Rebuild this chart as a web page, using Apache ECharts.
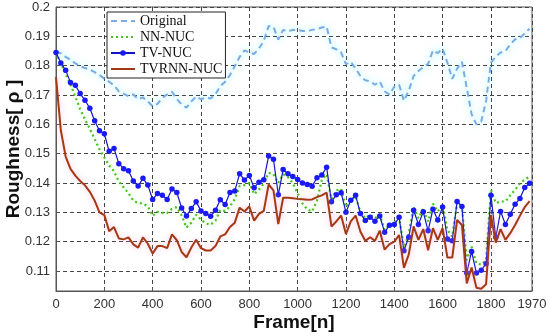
<!DOCTYPE html>
<html>
<head>
<meta charset="utf-8">
<script src="https://cdn.jsdelivr.net/npm/echarts@6/dist/echarts.min.js"></script>
<style>html,body{margin:0;padding:0;background:#fff;}#c{width:550px;height:336px;}</style>
</head>
<body>
<div id="c"></div>
<script>
const frames = [0,20,40,60,80,100,120,140,160,180,200,220,240,260,280,300,320,340,360,380,400,420,440,460,480,500,520,540,560,580,600,620,640,660,680,700,720,740,760,780,800,820,840,860,880,900,920,940,960,980,1000,1020,1040,1060,1080,1100,1120,1140,1160,1180,1200,1220,1240,1260,1280,1300,1320,1340,1360,1380,1400,1420,1440,1460,1480,1500,1520,1540,1560,1580,1600,1620,1640,1660,1680,1700,1720,1740,1760,1780,1800,1820,1840,1860,1880,1900,1920,1940,1960];

const original = [0.1849,0.1842,0.1830,0.1820,0.1808,0.1798,0.1792,0.1787,0.1778,0.1768,0.1756,0.1745,0.1733,0.1712,0.1704,0.1696,0.1702,0.1686,0.1692,0.1678,0.1662,0.1670,0.1690,0.1702,0.1711,0.1686,0.1668,0.1657,0.1678,0.1695,0.1686,0.1691,0.1688,0.1703,0.1730,0.1745,0.1768,0.1798,0.1830,0.1852,0.1845,0.1840,0.1858,0.1885,0.1935,0.1932,0.1889,0.1922,0.1917,0.1922,0.1922,0.1918,0.1918,0.1922,0.1925,0.1930,0.1934,0.1862,0.1856,0.1845,0.1805,0.1813,0.1790,0.1765,0.1750,0.1747,0.1735,0.1746,0.1712,0.1702,0.1728,0.1735,0.1680,0.1715,0.1765,0.1782,0.1795,0.1806,0.1852,0.1843,0.1858,0.1810,0.1755,0.1790,0.1813,0.1724,0.1635,0.1600,0.1610,0.1680,0.1810,0.1830,0.1845,0.1850,0.1872,0.1890,0.1894,0.1910,0.1926];

const nnNuc = [0.1845,0.1808,0.1772,0.1735,0.1695,0.1652,0.1617,0.1585,0.1550,0.1515,0.1487,0.1460,0.1440,0.1405,0.1385,0.1365,0.1340,0.1332,0.1330,0.1320,0.1288,0.1302,0.1298,0.1298,0.1312,0.1318,0.1290,0.1248,0.1265,0.1292,0.1275,0.1262,0.1258,0.1272,0.1308,0.1305,0.1320,0.1345,0.1390,0.1393,0.1400,0.1362,0.1378,0.1398,0.1435,0.1430,0.1400,0.1430,0.1420,0.1400,0.1365,0.1330,0.1310,0.1303,0.1340,0.1410,0.1430,0.1345,0.1375,0.1380,0.1318,0.1343,0.1355,0.1300,0.1280,0.1292,0.1280,0.1292,0.1240,0.1257,0.1263,0.1282,0.1178,0.1228,0.1318,0.1280,0.1314,0.1269,0.1330,0.1303,0.1326,0.1240,0.1217,0.1332,0.1320,0.1137,0.1183,0.1126,0.1122,0.1137,0.1377,0.1332,0.1337,0.1337,0.1358,0.1377,0.1398,0.1412,0.1422];

const tvNuc = [0.1845,0.1809,0.1784,0.1743,0.1733,0.1705,0.1682,0.1655,0.1612,0.1578,0.1568,0.1508,0.1518,0.1466,0.1449,0.1442,0.1407,0.1390,0.1416,0.1393,0.1344,0.1364,0.1358,0.1344,0.1380,0.1368,0.1315,0.1288,0.1313,0.1336,0.1305,0.1296,0.1287,0.1307,0.1343,0.1327,0.1368,0.1373,0.1432,0.1410,0.1426,0.1384,0.1403,0.1411,0.1492,0.1481,0.1360,0.1446,0.1432,0.1422,0.1412,0.1400,0.1395,0.1389,0.1418,0.1427,0.1454,0.1336,0.1360,0.1367,0.1300,0.1341,0.1358,0.1296,0.1272,0.1283,0.1270,0.1288,0.1232,0.1256,0.1259,0.1283,0.1169,0.1215,0.1307,0.1259,0.1302,0.1237,0.1311,0.1274,0.1318,0.1209,0.1203,0.1337,0.1320,0.1093,0.1167,0.1093,0.1103,0.1125,0.1358,0.1215,0.1303,0.1259,0.1294,0.1328,0.1347,0.1385,0.1399];

const tvrnnNuc = [0.1761,0.1580,0.1490,0.1448,0.1425,0.1407,0.1392,0.1370,0.1340,0.1300,0.1291,0.1236,0.1250,0.1211,0.1208,0.1215,0.1191,0.1180,0.1215,0.1193,0.1160,0.1185,0.1185,0.1178,0.1225,0.1205,0.1165,0.1147,0.1180,0.1207,0.1178,0.1170,0.1170,0.1185,0.1218,0.1225,0.1250,0.1265,0.1316,0.1303,0.1320,0.1272,0.1295,0.1305,0.1395,0.1375,0.1260,0.1350,0.1350,0.1348,0.1346,0.1345,0.1343,0.1344,0.1352,0.1358,0.1367,0.1252,0.1269,0.1289,0.1226,0.1269,0.1289,0.1234,0.1203,0.1215,0.1203,0.1238,0.1173,0.1192,0.1200,0.1223,0.1111,0.1157,0.1252,0.1206,0.1243,0.1171,0.1246,0.1206,0.1246,0.1146,0.1146,0.1274,0.1257,0.1058,0.1112,0.1043,0.1040,0.1055,0.1291,0.1197,0.1243,0.1206,0.1229,0.1257,0.1288,0.1318,0.1338];

const seriesNames = ['Original','NN-NUC','TV-NUC','TVRNN-NUC'];

const pairs = arr => frames.map((f, i) => [f, arr[i]]);

const chart = echarts.init(document.getElementById('c'), null, {renderer: 'canvas'});
const labelFont = {fontFamily: 'Liberation Sans, Arial, sans-serif', fontSize: 13, color: '#333'};
const nameFont = {fontFamily: 'Liberation Sans, Arial, sans-serif', fontSize: 19, fontWeight: 'bold', color: '#111'};
const dashGrid = {show: true, lineStyle: {color: '#444', type: [4, 3], width: 1}};

chart.setOption({
  animation: false,
  backgroundColor: '#fff',
  grid: {left: 56, right: 18, top: 7, bottom: 45, outerBoundsMode: 'none', containLabel: false, show: true, borderColor: '#555', borderWidth: 1, backgroundColor: 'transparent'},
  legend: {
    orient: 'vertical', left: 107, top: 12,
    data: [
      {name: seriesNames[0], itemStyle: {opacity: 0}},
      {name: seriesNames[1], itemStyle: {opacity: 0}},
      {name: seriesNames[2]},
      {name: seriesNames[3], itemStyle: {opacity: 0}}
    ],
    backgroundColor: '#fff', borderColor: '#222', borderWidth: 1,
    padding: [2, 3, 2, 3], itemGap: 2, itemWidth: 24, itemHeight: 7,
    textStyle: {fontFamily: 'Liberation Serif, Times New Roman, serif', fontSize: 14, color: '#111', lineHeight: 14}
  },
  xAxis: {
    type: 'value', min: 0, max: 1970, interval: 200,
    name: 'Frame[n]', nameLocation: 'middle', nameGap: 22, nameMoveOverlap: false, nameTextStyle: nameFont,
    axisLine: {show: true, lineStyle: {color: '#555'}},
    axisTick: {show: true, inside: true, length: 3, lineStyle: {color: '#555'}},
    axisLabel: Object.assign({margin: 7, showMaxLabel: true, formatter: v => String(v)}, labelFont),
    splitLine: dashGrid
  },
  yAxis: {
    type: 'value', min: 0.1032, max: 0.2, splitNumber: 10, minInterval: 0.01, maxInterval: 0.01,
    name: 'Roughness[ ρ ]', nameLocation: 'middle', nameGap: 33, nameMoveOverlap: false, nameTextStyle: nameFont,
    axisLine: {show: true, lineStyle: {color: '#555'}},
    axisTick: {show: true, inside: true, length: 3, lineStyle: {color: '#555'}},
    axisLabel: Object.assign({margin: 6, showMinLabel: false}, labelFont),
    splitLine: dashGrid
  },
  series: [
    {
      name: seriesNames[0], type: 'line', data: pairs(original), symbol: 'none',
      lineStyle: {color: '#79ace6', width: 2, type: [6, 4], shadowColor: 'rgba(0,235,255,0.5)', shadowBlur: 7},
      itemStyle: {color: '#79ace6'}, z: 2
    },
    {
      name: seriesNames[1], type: 'line', data: pairs(nnNuc), symbol: 'none',
      lineStyle: {color: '#48c21a', width: 2.2, type: [2, 3], shadowColor: 'rgba(150,255,160,0.6)', shadowBlur: 6},
      itemStyle: {color: '#48c21a'}, z: 3
    },
    {
      name: seriesNames[2], type: 'line', data: pairs(tvNuc), symbol: 'circle', symbolSize: 5.5,
      lineStyle: {color: '#1515c8', width: 1.2},
      itemStyle: {color: '#1a1af5'}, z: 4
    },
    {
      name: seriesNames[3], type: 'line', data: pairs(tvrnnNuc), symbol: 'none',
      lineStyle: {color: '#a43a14', width: 2, shadowColor: 'rgba(255,150,200,0.6)', shadowBlur: 6},
      itemStyle: {color: '#a43a14'}, z: 5
    }
  ]
});
</script>
</body>
</html>
